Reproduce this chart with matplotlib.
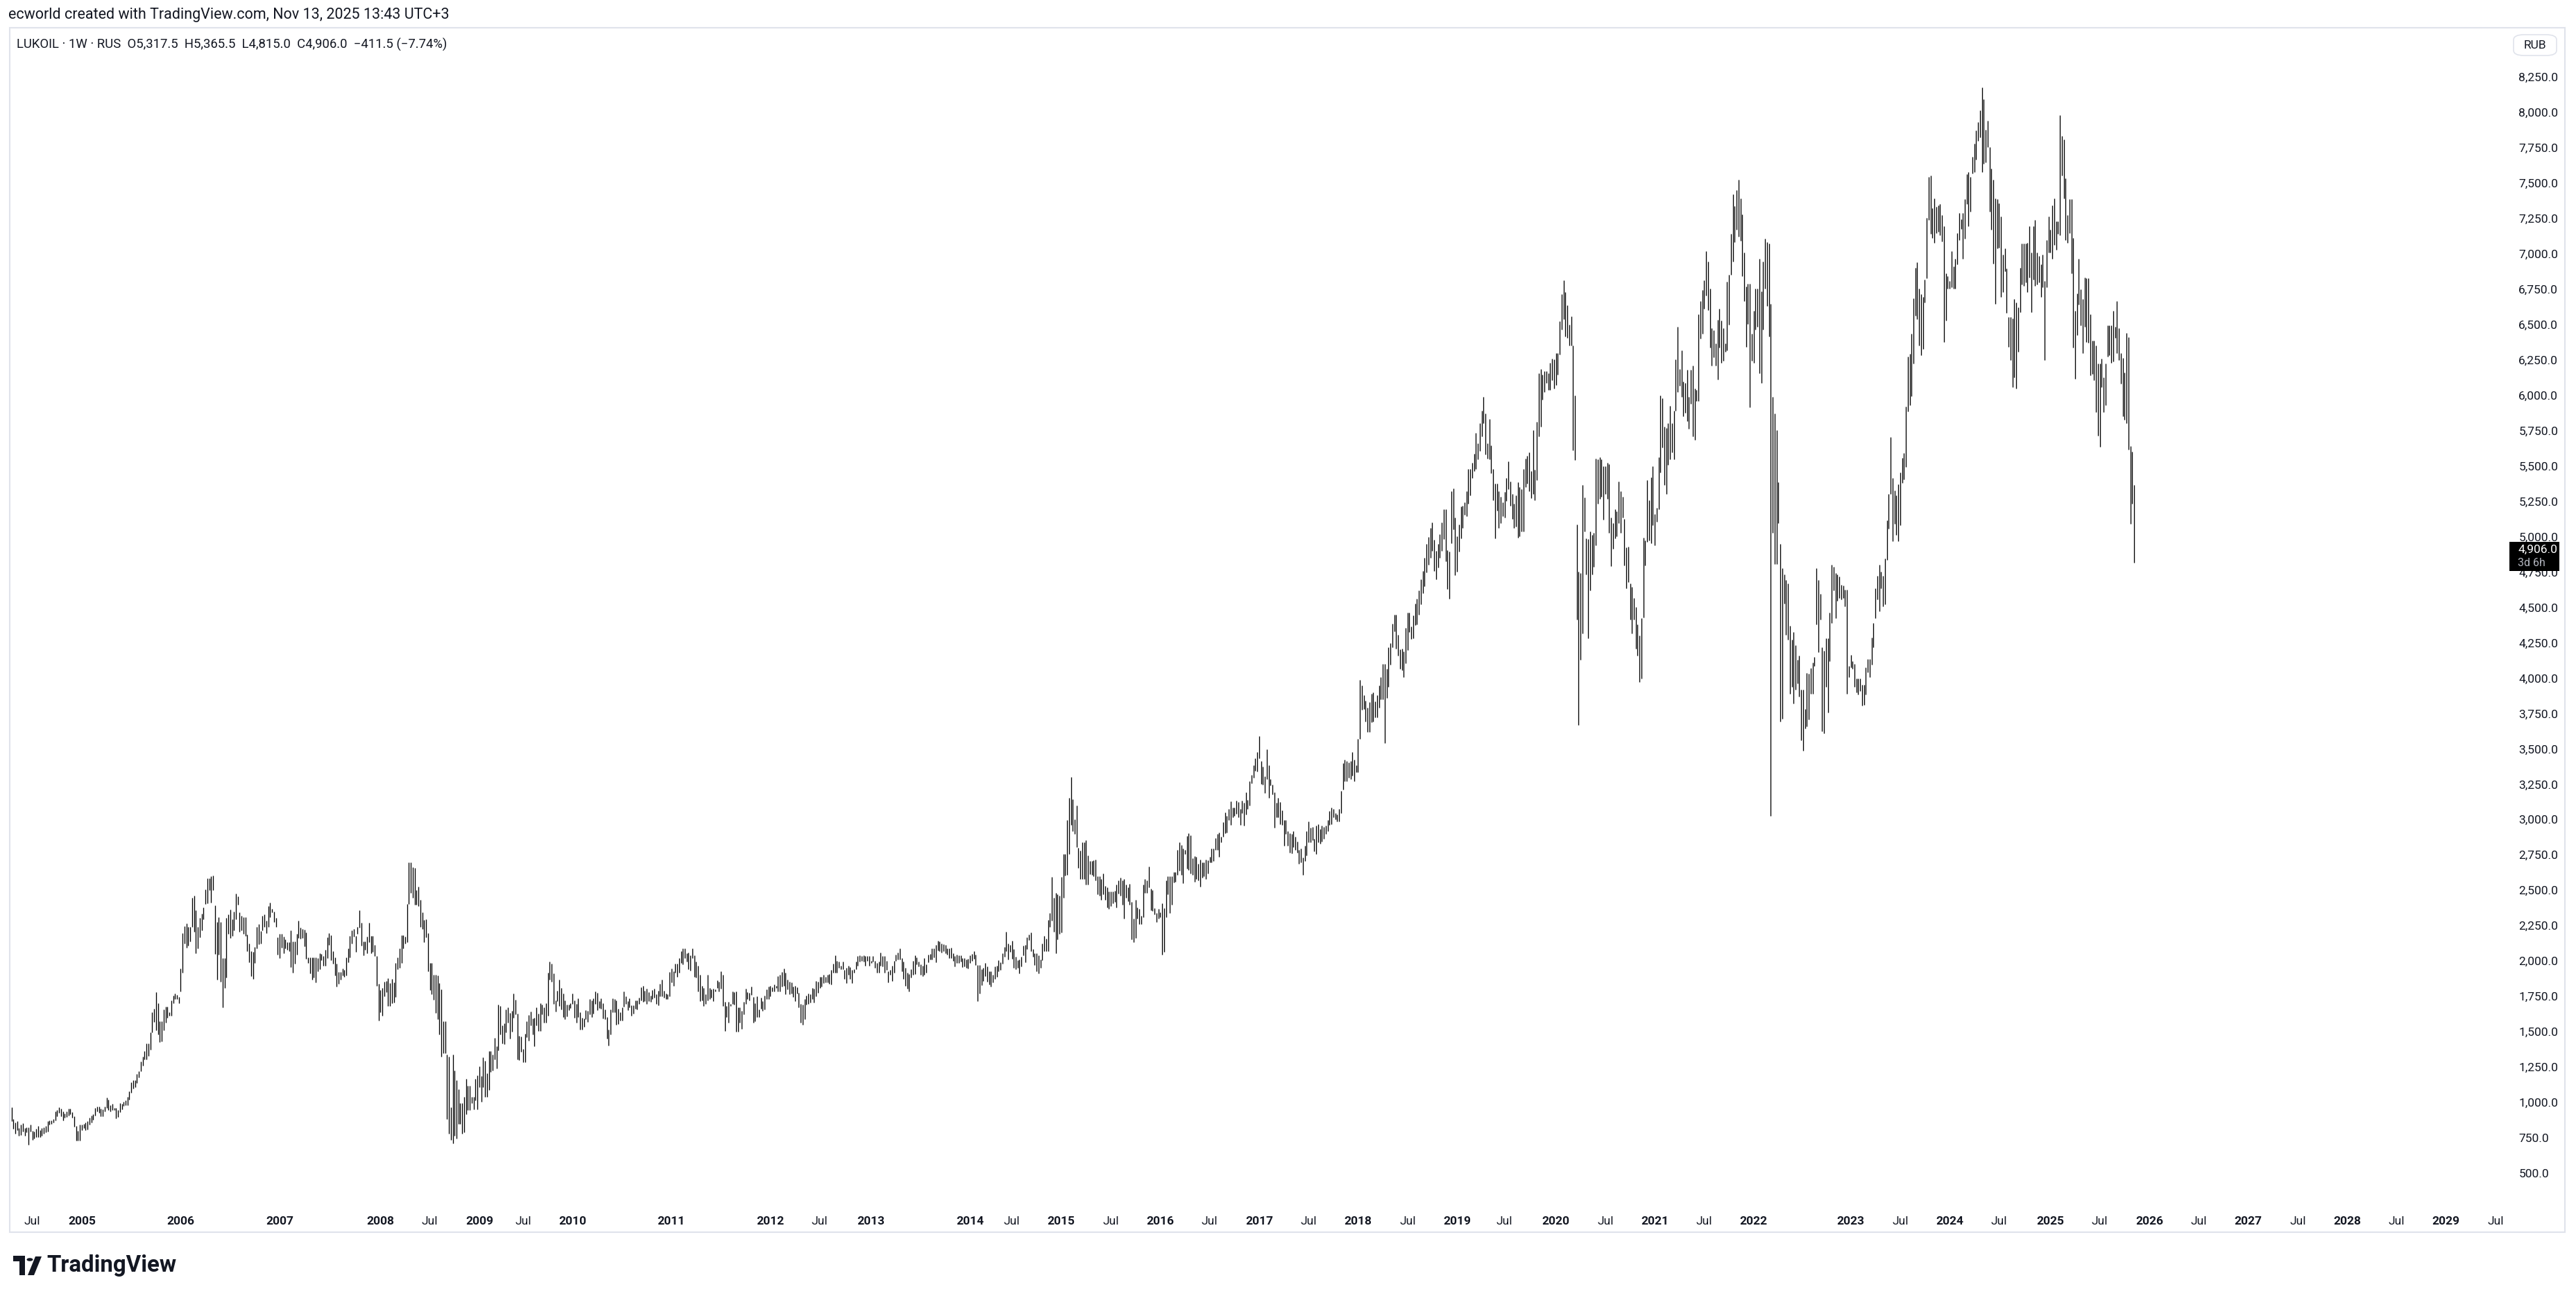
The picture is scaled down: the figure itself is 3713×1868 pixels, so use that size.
import numpy as np
import pandas as pd
import matplotlib
matplotlib.use("Agg")
import matplotlib.pyplot as plt
from matplotlib.patches import Rectangle, FancyBboxPatch, Circle, Polygon

# LUKOIL weekly bars (high / low, RUB) in chunks

# Apr 2004 - Jan 2009
start_a = "2004-04-19"
high_a = [964, 884, 858, 866, 820, 841, 854, 820, 823, 823,
          841, 801, 794, 815, 835, 806, 818, 823, 835, 866,
          875, 875, 884, 935, 944, 966, 956, 935, 923, 935,
          958, 956, 930, 901, 832, 801, 841, 841, 849, 858,
          866, 892, 906, 918, 961, 973, 970, 956, 952, 970,
          1033, 1021, 983, 990, 961, 961, 944, 995, 992, 1007,
          1013, 1042, 1081, 1145, 1155, 1159, 1202, 1219, 1288, 1322,
          1362, 1417, 1417, 1494, 1640, 1661, 1778, 1701, 1572, 1572,
          1658, 1678, 1675, 1640, 1723, 1757, 1768, 1761, 1747, 1945,
          2199, 2248, 2268, 2242, 2242, 2449, 2463, 2359, 2242, 2303,
          2335, 2380, 2507, 2586, 2586, 2598, 2604, 2392, 2277, 2311,
          2277, 2019, 2019, 2303, 2328, 2366, 2294, 2349, 2478, 2457,
          2346, 2320, 2308, 2308, 2187, 2122, 2070, 2065, 2101, 2242,
          2263, 2211, 2320, 2328, 2285, 2389, 2414, 2371, 2349, 2303,
          2170, 2191, 2194, 2174, 2151, 2131, 2134, 2217, 2136, 2139,
          2191, 2285, 2237, 2229, 2222, 2203, 2027, 2027, 2024, 2027,
          2024, 2022, 2057, 2048, 2033, 2079, 2170, 2198, 2182, 2070,
          2027, 1979, 1924, 1924, 1945, 1936, 2027, 2088, 2179, 2217,
          2229, 2177, 2242, 2359, 2272, 2139, 2139, 2174, 2272, 2177,
          2177, 2113, 2033, 1838, 1795, 1812, 1855, 1861, 1876, 1843,
          1873, 1847, 1984, 2027, 2088, 2182, 2182, 2174, 2401, 2698,
          2698, 2664, 2659, 2500, 2526, 2432, 2346, 2291, 2294, 2199,
          1984, 1988, 1902, 1902, 1898, 1843, 1800, 1572, 1572, 1339,
          1326, 966, 1339, 1228, 1155, 1093, 994, 995, 1038, 1167,
          1119, 1116, 1038, 1042, 1167, 1193, 1253, 1188, 1317, 1296]
low_a = [866, 815, 780, 806, 763, 772, 792, 763, 789, 703,
         794, 737, 746, 755, 755, 755, 763, 780, 789, 794,
         841, 849, 858, 875, 901, 927, 901, 875, 892, 897,
         909, 918, 892, 829, 729, 732, 729, 806, 818, 806,
         811, 841, 858, 880, 909, 935, 927, 904, 904, 935,
         961, 944, 939, 944, 944, 887, 897, 932, 952, 978,
         983, 983, 1021, 1069, 1099, 1107, 1138, 1176, 1219, 1262,
         1302, 1305, 1331, 1374, 1494, 1568, 1511, 1482, 1425, 1434,
         1511, 1563, 1597, 1615, 1615, 1701, 1730, 1730, 1701, 1783,
         1919, 2125, 2096, 2108, 2136, 2242, 2205, 2057, 2088, 2170,
         2217, 2294, 2404, 2406, 2500, 2411, 2500, 2048, 1867, 2045,
         1854, 1671, 1809, 1881, 2194, 2165, 2177, 2217, 2294, 2397,
         2208, 2217, 2191, 2177, 2070, 1993, 1895, 1873, 1988, 2088,
         2119, 2122, 2217, 2242, 2199, 2242, 2311, 2346, 2277, 2242,
         2045, 2019, 2096, 2053, 2088, 2079, 2070, 1959, 1916, 1979,
         2045, 2165, 2160, 2162, 2105, 2015, 1984, 1912, 1867, 1881,
         1847, 1929, 1941, 2007, 1967, 1967, 2019, 2113, 2005, 1981,
         1898, 1821, 1838, 1867, 1898, 1890, 1898, 1993, 2027, 2125,
         2174, 2067, 2194, 2234, 2108, 2039, 2079, 2053, 2131, 2057,
         2067, 2036, 1826, 1580, 1640, 1615, 1752, 1778, 1683, 1683,
         1701, 1709, 1744, 1941, 1950, 1984, 2088, 2122, 2131, 2401,
         2483, 2449, 2397, 2397, 2389, 2242, 2225, 2131, 2168, 1929,
         1795, 1764, 1726, 1635, 1589, 1482, 1322, 1348, 1351, 884,
         780, 737, 712, 763, 746, 849, 849, 780, 789, 918,
         944, 944, 995, 949, 1013, 952, 1107, 1004, 1107, 1038]

# Feb 2009 - Dec 2013
start_b = "2009-02-23"
high_b = [1208, 1364, 1364, 1340, 1458, 1397, 1690, 1681, 1543, 1558,
          1656, 1673, 1631, 1648, 1769, 1727, 1627, 1470, 1465, 1377,
          1487, 1575, 1617, 1644, 1593, 1600, 1673, 1627, 1702, 1690,
          1673, 1702, 1918, 1994, 1982, 1913, 1723, 1791, 1867, 1808,
          1769, 1719, 1690, 1693, 1702, 1769, 1719, 1698, 1735, 1639,
          1600, 1592, 1651, 1648, 1732, 1723, 1735, 1783, 1774, 1715,
          1735, 1702, 1656, 1605, 1516, 1656, 1735, 1729, 1723, 1664,
          1639, 1673, 1783, 1752, 1715, 1735, 1685, 1685, 1723, 1723,
          1740, 1813, 1825, 1791, 1803, 1779, 1757, 1796, 1806, 1766,
          1791, 1837, 1870, 1791, 1769, 1766, 1921, 1948, 1926, 1982,
          1982, 2022, 2070, 2090, 2087, 2056, 2061, 2039, 2087, 2039,
          1994, 1968, 1901, 1825, 1808, 1766, 1901, 1808, 1800, 1803,
          1800, 1864, 1854, 1926, 1901, 1712, 1681, 1712, 1698, 1783,
          1779, 1786, 1673, 1673, 1648, 1712, 1803, 1779, 1774, 1820,
          1745, 1702, 1749, 1656, 1740, 1715, 1757, 1800, 1820, 1825,
          1816, 1833, 1825, 1892, 1901, 1921, 1948, 1918, 1867, 1854,
          1847, 1820, 1825, 1816, 1774, 1698, 1690, 1732, 1757, 1769,
          1766, 1808, 1806, 1859, 1854, 1887, 1887, 1901, 1887, 1901,
          1909, 1935, 1982, 2039, 2002, 1994, 1968, 1994, 1935, 1952,
          1968, 1955, 1935, 1943, 1994, 2036, 2039, 2033, 2039, 2036,
          2033, 2033, 2002, 2036, 2002, 1985, 1994, 2061, 2036, 2036,
          2002, 1926, 1935, 1968, 1999, 2044, 2061, 2087, 2022, 1994,
          1952, 1918, 1909, 1943, 1999, 2039, 2027, 1994, 1977, 1968,
          2019, 1977, 2044, 2049, 2087, 2087, 2112, 2141, 2137, 2124,
          2120, 2112, 2090, 2090, 2095, 2056, 2033, 2044, 2039, 2039,
          2022, 2019, 2011, 2016]
low_b = [1039, 1090, 1217, 1225, 1306, 1239, 1369, 1479, 1419, 1411,
         1495, 1563, 1453, 1499, 1597, 1622, 1306, 1301, 1360, 1284,
         1284, 1462, 1436, 1546, 1482, 1398, 1546, 1504, 1504, 1622,
         1563, 1566, 1614, 1867, 1854, 1698, 1644, 1715, 1681, 1656,
         1605, 1588, 1610, 1651, 1668, 1698, 1600, 1563, 1605, 1516,
         1516, 1533, 1588, 1571, 1622, 1605, 1627, 1698, 1651, 1668,
         1664, 1593, 1588, 1453, 1403, 1479, 1639, 1639, 1550, 1555,
         1580, 1580, 1678, 1698, 1651, 1673, 1614, 1627, 1664, 1656,
         1698, 1723, 1712, 1718, 1698, 1715, 1712, 1732, 1740, 1698,
         1685, 1749, 1749, 1740, 1732, 1732, 1752, 1847, 1825, 1918,
         1887, 1918, 1985, 1977, 2022, 1994, 1943, 1931, 2019, 1887,
         1884, 1783, 1718, 1723, 1681, 1698, 1723, 1732, 1740, 1718,
         1783, 1808, 1783, 1803, 1681, 1504, 1605, 1563, 1681, 1695,
         1690, 1499, 1499, 1563, 1521, 1622, 1698, 1729, 1723, 1762,
         1566, 1576, 1605, 1605, 1661, 1648, 1656, 1732, 1729, 1752,
         1783, 1783, 1808, 1783, 1786, 1820, 1825, 1766, 1800, 1766,
         1769, 1745, 1715, 1769, 1673, 1566, 1550, 1588, 1690, 1698,
         1707, 1732, 1707, 1749, 1774, 1808, 1820, 1842, 1850, 1850,
         1837, 1833, 1918, 1918, 1918, 1952, 1943, 1943, 1875, 1842,
         1901, 1875, 1842, 1918, 1943, 1968, 1994, 2002, 1994, 1968,
         2002, 1968, 1985, 1994, 1952, 1918, 1918, 1968, 1960, 1918,
         1935, 1850, 1901, 1859, 1918, 2002, 2011, 2011, 1926, 1875,
         1825, 1803, 1786, 1884, 1901, 1909, 1977, 1960, 1901, 1892,
         1901, 1918, 1989, 2011, 2011, 2027, 1989, 2073, 2070, 2061,
         2070, 2056, 2044, 2019, 2019, 2002, 1960, 1985, 1985, 1994,
         1955, 1960, 1952, 1948]

# Feb 2014 - Aug 2018
start_c = "2014-02-03"
high_c = [2038, 2051, 2070, 2047, 1973, 1970, 1940, 1950, 1985, 1960,
          1927, 1927, 1902, 1960, 1966, 2004, 1989, 2057, 2101, 2206,
          2125, 2115, 2144, 2082, 2028, 2008, 2012, 2032, 2109, 2115,
          2167, 2187, 2202, 2086, 2057, 2057, 2038, 2012, 2125, 2179,
          2160, 2290, 2338, 2594, 2445, 2483, 2470, 2464, 2594, 2755,
          2755, 2999, 3156, 3302, 3143, 3001, 3098, 2799, 2780, 2838,
          2838, 2852, 2745, 2706, 2706, 2710, 2716, 2600, 2600, 2580,
          2619, 2532, 2522, 2493, 2493, 2493, 2497, 2542, 2571, 2590,
          2571, 2580, 2542, 2522, 2547, 2416, 2299, 2435, 2377, 2367,
          2322, 2542, 2580, 2571, 2668, 2509, 2503, 2373, 2338, 2367,
          2342, 2406, 2373, 2571, 2600, 2600, 2600, 2629, 2629, 2784,
          2838, 2819, 2794, 2788, 2885, 2904, 2891, 2726, 2741, 2736,
          2687, 2716, 2697, 2697, 2716, 2710, 2736, 2794, 2794, 2871,
          2900, 2910, 2881, 2982, 3052, 3026, 3075, 3129, 3085, 3085,
          3133, 3123, 3075, 3133, 3117, 3195, 3137, 3269, 3317, 3385,
          3434, 3478, 3589, 3414, 3375, 3304, 3498, 3385, 3288, 3249,
          3195, 3117, 3156, 3123, 3065, 2997, 2997, 2920, 2904, 2900,
          2920, 2881, 2846, 2784, 2794, 2730, 2813, 2920, 2988, 2943,
          2949, 2865, 2959, 2968, 2935, 2959, 2949, 2959, 2997, 3059,
          3085, 3075, 3046, 3036, 3075, 3201, 3401, 3424, 3414, 3404,
          3414, 3478, 3424, 3385, 3569, 3986, 3947, 3880, 3841, 3792,
          3831, 3889, 3899, 3835, 3880, 3947, 4006, 4099, 4102, 4064,
          4219, 4248, 4384, 4451, 4451, 4306, 4203, 4209, 4190, 4354,
          4461, 4461, 4364, 4442, 4529]
low_c = [1985, 1999, 2018, 1970, 1718, 1772, 1830, 1857, 1892, 1853,
         1834, 1818, 1849, 1873, 1888, 1927, 1935, 1979, 2028, 2070,
         2012, 2067, 2018, 1950, 1940, 1950, 1915, 1960, 2038, 1989,
         2086, 2148, 2070, 2028, 1970, 1927, 1915, 1954, 2008, 2070,
         2070, 2070, 2241, 2284, 2206, 2057, 2154, 2193, 2202, 2445,
         2606, 2609, 2755, 2962, 2920, 2900, 2803, 2658, 2580, 2580,
         2580, 2542, 2542, 2613, 2609, 2600, 2571, 2474, 2464, 2435,
         2474, 2435, 2377, 2367, 2386, 2406, 2416, 2377, 2478, 2464,
         2396, 2299, 2445, 2425, 2396, 2154, 2134, 2164, 2299, 2260,
         2260, 2309, 2483, 2483, 2522, 2357, 2353, 2328, 2276, 2299,
         2309, 2047, 2067, 2309, 2474, 2338, 2400, 2555, 2561, 2609,
         2639, 2609, 2551, 2755, 2652, 2644, 2619, 2609, 2561, 2580,
         2571, 2528, 2590, 2600, 2580, 2619, 2697, 2697, 2706, 2784,
         2784, 2736, 2842, 2881, 2904, 2910, 2997, 2962, 3017, 3026,
         3040, 3017, 2962, 3046, 2958, 3036, 3075, 3098, 3259, 3298,
         3346, 3342, 3434, 3253, 3249, 3187, 3288, 3152, 3240, 3176,
         2943, 3017, 3017, 2968, 2962, 2813, 2900, 2813, 2765, 2761,
         2803, 2784, 2768, 2687, 2697, 2609, 2706, 2745, 2842, 2838,
         2852, 2774, 2755, 2842, 2832, 2846, 2865, 2900, 2920, 2962,
         2968, 3017, 3001, 2988, 2988, 3046, 3214, 3269, 3273, 3298,
         3288, 3311, 3269, 3337, 3337, 3569, 3777, 3783, 3695, 3618,
         3622, 3686, 3695, 3724, 3724, 3792, 3850, 3850, 3540, 3860,
         3938, 4093, 4219, 4331, 4209, 4161, 4064, 4054, 4009, 4106,
         4199, 4325, 4277, 4281, 4374]

# Aug 2018 - Nov 2018
start_d = "2018-08-13"
high_d = [4560, 4620, 4700, 4760, 4850, 4950, 5000, 5060, 5100, 4980,
          4900, 4950, 5020, 5100]
low_d = [4380, 4450, 4520, 4600, 4650, 4750, 4800, 4850, 4900, 4760,
         4700, 4780, 4850, 4900]

# Nov 2018 - Oct 2022 (exchange closed for three weeks in Mar 2022)
start_e = "2018-11-19"
high_e = [5192, 5192, 4907, 4897, 5324, 5343, 5137, 5005, 5087, 5212,
          5219, 5245, 5324, 5481, 5481, 5521, 5587, 5734, 5662, 5803,
          5892, 5990, 5869, 5662, 5833, 5646, 5481, 5376, 5376, 5324,
          5284, 5242, 5317, 5416, 5531, 5389, 5301, 5235, 5291, 5383,
          5350, 5334, 5481, 5554, 5573, 5596, 5465, 5751, 5475, 5810,
          6155, 6187, 6145, 6171, 6171, 6155, 6230, 6260, 6256, 6296,
          6296, 6522, 6713, 6811, 6729, 6637, 6499, 6559, 6352, 5997,
          5087, 4752, 4742, 5366, 5278, 4989, 4982, 5038, 5015, 5028,
          5554, 5547, 5563, 5547, 5498, 5498, 5521, 5514, 5137, 5094,
          5192, 5179, 5389, 5324, 5284, 5127, 4923, 4930, 4667, 4644,
          4568, 4503, 4381, 4299, 4424, 4995, 4972, 5399, 5258, 5422,
          5498, 5160, 5202, 5563, 6000, 5980, 5777, 5770, 5803, 5925,
          5803, 5892, 6253, 6483, 6187, 6319, 6099, 6089, 6178, 5990,
          6178, 6210, 6046, 6040, 6572, 6664, 6746, 6811, 7018, 6943,
          6756, 6473, 6460, 6368, 6532, 6614, 6526, 6473, 6368, 6802,
          6854, 7140, 7419, 7337, 7452, 7524, 7393, 7281, 7008, 6769,
          6788, 6788, 6434, 6598, 6756, 6756, 6966, 6736, 6943, 7107,
          7084, 7074, 6647, 5990, 5869, 5751, 5383, 4949, 4775, 4733,
          4693, 4667, 4371, 4273, 4325, 4233, 4128, 4161, 3921, 3921,
          3780, 4036, 4030, 4069, 4109, 4151, 4775, 4693, 4595, 4217,
          4194, 4283, 4283, 4463]
low_e = [4982, 4825, 4628, 4562, 4956, 5054, 4726, 4752, 4897, 4989,
         5061, 5153, 5146, 5235, 5291, 5416, 5465, 5481, 5547, 5606,
         5711, 5803, 5580, 5554, 5547, 5449, 5258, 4989, 5186, 5061,
         5094, 5146, 5137, 5251, 5334, 5219, 5127, 5061, 5071, 4995,
         5005, 5038, 5038, 5350, 5376, 5324, 5275, 5301, 5258, 5399,
         5711, 5777, 5967, 6023, 6089, 6040, 6040, 6105, 6049, 6072,
         6145, 6286, 6467, 6539, 6417, 6407, 6352, 6352, 5613, 5540,
         4414, 3669, 4128, 4316, 5038, 4733, 4283, 4621, 4733, 4785,
         4940, 5235, 5268, 5284, 5120, 5301, 5268, 5028, 4792, 4917,
         4989, 5005, 5094, 5028, 5137, 4798, 4634, 4677, 4414, 4316,
         4414, 4207, 4161, 3971, 3997, 4431, 4798, 4962, 4972, 4956,
         5081, 4940, 5104, 5192, 5455, 5629, 5366, 5301, 5508, 5547,
         5596, 5547, 5892, 6023, 6066, 5990, 5849, 5875, 5816, 5764,
         5941, 5711, 5685, 5957, 5957, 6401, 6434, 6614, 6703, 6604,
         6335, 6211, 6270, 6211, 6112, 6335, 6227, 6243, 6309, 6319,
         6499, 6854, 6943, 7084, 7173, 7123, 7091, 6844, 6664, 6342,
         6506, 5915, 6243, 6230, 6467, 6483, 6155, 6089, 6467, 6756,
         6631, 6417, 3025, 5028, 4808, 4808, 5094, 3692, 3715, 4529,
         4306, 4273, 3889, 3938, 3823, 3921, 3964, 3872, 3560, 3485,
         3642, 3659, 3708, 3889, 3889, 4086, 4381, 4184, 4414, 3626,
         3609, 3938, 3757, 4119]

# Oct 2022 - Nov 2025
start_f = "2022-10-24"
high_f = [4801, 4787, 4741, 4731, 4717, 4661, 4654, 4626, 4626, 4086,
          4163, 4121, 4100, 3995, 3995, 3995, 3953, 3953, 4076, 4135,
          4135, 4286, 4391, 4636, 4724, 4801, 4752, 4724, 4846, 5116,
          5302, 5705, 5417, 5326, 5291, 5372, 5452, 5558, 5593, 5922,
          6272, 6293, 6433, 6686, 6903, 6938, 6756, 6714, 6693, 6819,
          7253, 7544, 7554, 7323, 7393, 7334, 7344, 7351, 7274, 7193,
          6861, 6843, 6808, 7018, 6913, 6966, 7148, 7288, 7246, 7288,
          7386, 7561, 7579, 7544, 7684, 7778, 7870, 7929, 8017, 8174,
          8094, 7877, 7940, 7754, 7603, 7526, 7393, 7386, 7358, 7264,
          6994, 7036, 6896, 6552, 6552, 6545, 6679, 6658, 6622, 6903,
          7071, 7071, 7071, 7078, 7193, 7008, 7193, 7239, 7008, 6983,
          6924, 6994, 6808, 7099, 7264, 7169, 7344, 7393, 7228, 7228,
          7982, 7835, 7807, 7533, 7274, 7386, 7386, 7113, 6598, 6721,
          6966, 6749, 6679, 6833, 6826, 6826, 6573, 6388, 6388, 6353,
          6223, 6223, 6258, 6125, 6223, 6493, 6493, 6493, 6598, 6482,
          6668, 6475, 6300, 6265, 6160, 6440, 6412, 5642, 5600, 5365.5]
low_f = [4391, 4619, 4426, 4549, 4566, 4556, 4566, 4507, 3890, 4006,
         4076, 4065, 3936, 3901, 3883, 3911, 3806, 3813, 3883, 4041,
         4006, 4093, 4216, 4426, 4556, 4472, 4636, 4507, 4521, 4836,
         5057, 5302, 4969, 5092, 5011, 4969, 5081, 5382, 5407, 5495,
         5887, 5932, 5992, 6223, 6563, 6538, 6353, 6283, 6328, 6657,
         6826, 7239, 7141, 7113, 7078, 7148, 7158, 7134, 7088, 6377,
         6528, 6756, 6756, 6763, 6756, 6756, 6924, 7099, 7176, 6966,
         7106, 7351, 7194, 7299, 7568, 7579, 7666, 7800, 7824, 7579,
         7638, 7649, 7754, 7299, 7169, 6931, 6644, 7036, 7043, 6693,
         6728, 6878, 6580, 6342, 6248, 6055, 6125, 6048, 6307, 6587,
         6784, 6773, 6798, 6728, 6833, 6587, 6819, 6773, 6784, 6798,
         6693, 6763, 6248, 6763, 7008, 7008, 6966, 7064, 7029, 7141,
         7134, 7554, 7393, 7099, 7078, 7148, 6861, 6335, 6118, 6423,
         6643, 6493, 6300, 6482, 6377, 6370, 6143, 6153, 6108, 5880,
         5712, 5635, 6055, 5880, 5932, 6272, 6283, 6230, 6237, 6405,
         6300, 6248, 6083, 5852, 5827, 5803, 5617, 5092, 5232, 4815]

closed_weeks = pd.to_datetime(["2022-02-28", "2022-03-07", "2022-03-14"])

year_labels = list(range(2005, 2030))
jul_labels = [2004, 2008, 2009, 2012, 2014, 2015, 2016, 2017, 2018, 2019,
              2020, 2021, 2023, 2024, 2025, 2026, 2027, 2028, 2029]
price_ticks = np.arange(500, 8251, 250)

header = "ecworld created with TradingView.com, Nov 13, 2025 13:43 UTC+3"
legend = "LUKOIL \u00b7 1W \u00b7 RUS  O5,317.5  H5,365.5  L4,815.0  C4,906.0  \u2212411.5 (\u22127.74%)"
last_price = 4906.0
last_label = "4,906.0"
countdown = "3d 6h"


def week_dates(start, n):
    d = pd.date_range(start, periods=n + 10, freq="W-MON")
    d = d[~d.isin(closed_weeks)]
    return d[:n]


segments = [(start_a, high_a, low_a), (start_b, high_b, low_b), (start_c, high_c, low_c),
            (start_d, high_d, low_d), (start_e, high_e, low_e), (start_f, high_f, low_f)]
high = np.concatenate([np.array(s[1], float) for s in segments])
low = np.concatenate([np.array(s[2], float) for s in segments])
dates = week_dates(segments[0][0], len(segments[0][1]))
for s in segments[1:]:
    dates = dates.append(week_dates(s[0], len(s[1])))
n = len(high)
idx = np.arange(n)

future = pd.date_range(dates[-1] + pd.Timedelta(days=7), periods=240, freq="W-MON")
all_dates = dates.append(future)
all_idx = np.arange(len(all_dates))

W, H = 3713, 1868
fig = plt.figure(figsize=(W / 100, H / 100), dpi=100)
fig.patch.set_facecolor("white")
plt.rcParams["font.family"] = ["Roboto", "DejaVu Sans"]
txt = "#131722"


def fx(px):
    return px / W


def fy(py):
    return 1 - py / H


# plot pane: first bar at x=16.5, last bar at x=3076 (pixels)
ax_l, ax_r, ax_t, ax_b = 15, 3615, 40, 1735
ax = fig.add_axes([fx(ax_l), fy(ax_b), fx(ax_r) - fx(ax_l), fy(ax_t) - fy(ax_b)])
step = (3076 - 16.5) / (n - 1)
ax.set_xlim((ax_l - 16.5) / step, (ax_r - 16.5) / step)
ppr = (1691 - 111) / (8250 - 500)
ax.set_ylim(500 - (ax_b - 1691) / ppr, 8250 + (111 - ax_t) / ppr)

ax.vlines(idx, low, high, color="#000000", linewidth=0.95)

for s in ax.spines.values():
    s.set_visible(False)
ax.yaxis.tick_right()
ax.set_yticks(price_ticks)
ax.set_yticklabels([f"{v:,.1f}" for v in price_ticks])
ax.tick_params(axis="y", length=0, pad=11, labelsize=12.5, labelcolor=txt)

pos, labs, bold = [], [], []
for y in year_labels:
    pos.append(all_idx[all_dates.year == y][0])
    labs.append(str(y))
    bold.append(True)
for y in jul_labels:
    pos.append(all_idx[(all_dates.year == y) & (all_dates.month == 7)][0])
    labs.append("Jul")
    bold.append(False)
order = np.argsort(pos)
ax.set_xticks([pos[i] for i in order])
ax.set_xticklabels([labs[i] for i in order])
for t, i in zip(ax.get_xticklabels(), order):
    t.set_fontweight("bold" if bold[i] else "normal")
ax.tick_params(axis="x", length=0, pad=13, labelsize=12.5, labelcolor=txt)

# outer frame
fig.patches.append(Rectangle((fx(14), fy(1776)), fx(3697) - fx(14), fy(40) - fy(1776),
                             transform=fig.transFigure, fill=False, edgecolor="#e0e3eb", linewidth=1.5))

fig.text(fx(12), fy(21), header, fontsize=15.5, color=txt, va="center", ha="left")
fig.text(fx(24), fy(64), legend, fontsize=13.3, color=txt, va="center", ha="left")

# currency badge
fig.patches.append(FancyBboxPatch((fx(3623), fy(80)), fx(3685) - fx(3623), fy(50) - fy(80),
                                  boxstyle="round,pad=0,rounding_size=0.004", transform=fig.transFigure,
                                  facecolor="white", edgecolor="#e0e3eb", linewidth=1.2))
fig.text(fx(3654), fy(65), "RUB", fontsize=12.5, color=txt, ha="center", va="center")

# last price tag
yl = ax.transData.transform((0, last_price))[1]
tag_top = H - yl - 12
fig.patches.append(Rectangle((fx(3617), fy(tag_top + 42)), fx(3689) - fx(3617), 42 / H,
                             transform=fig.transFigure, facecolor="black", edgecolor="none", zorder=5))
fig.text(fx(3629), fy(tag_top + 12), last_label, fontsize=12.5, color="white", va="center", ha="left", zorder=6)
fig.text(fx(3629), fy(tag_top + 31), countdown, fontsize=11.5, color="#b2b5be", va="center", ha="left", zorder=6)

# TradingView logo
lc = "#131722"
fig.patches.append(Rectangle((fx(19), fy(1818)), fx(36) - fx(19), 8 / H, transform=fig.transFigure,
                             facecolor=lc, edgecolor="none"))
fig.patches.append(Rectangle((fx(28), fy(1838)), fx(36) - fx(28), 27 / H, transform=fig.transFigure,
                             facecolor=lc, edgecolor="none"))
fig.patches.append(Circle((fx(43), fy(1815.5)), 4.5 / W, transform=fig.transFigure,
                          facecolor=lc, edgecolor="none"))
fig.patches.append(Polygon([(fx(40), fy(1838)), (fx(51), fy(1811)), (fx(60), fy(1811)), (fx(49), fy(1838))],
                           closed=True, transform=fig.transFigure, facecolor=lc, edgecolor="none"))
fig.text(fx(67), fy(1824), "TradingView", fontsize=23.8, fontweight="bold", color=lc, va="center", ha="left")

fig.savefig("out.png", dpi=100, facecolor="white")
